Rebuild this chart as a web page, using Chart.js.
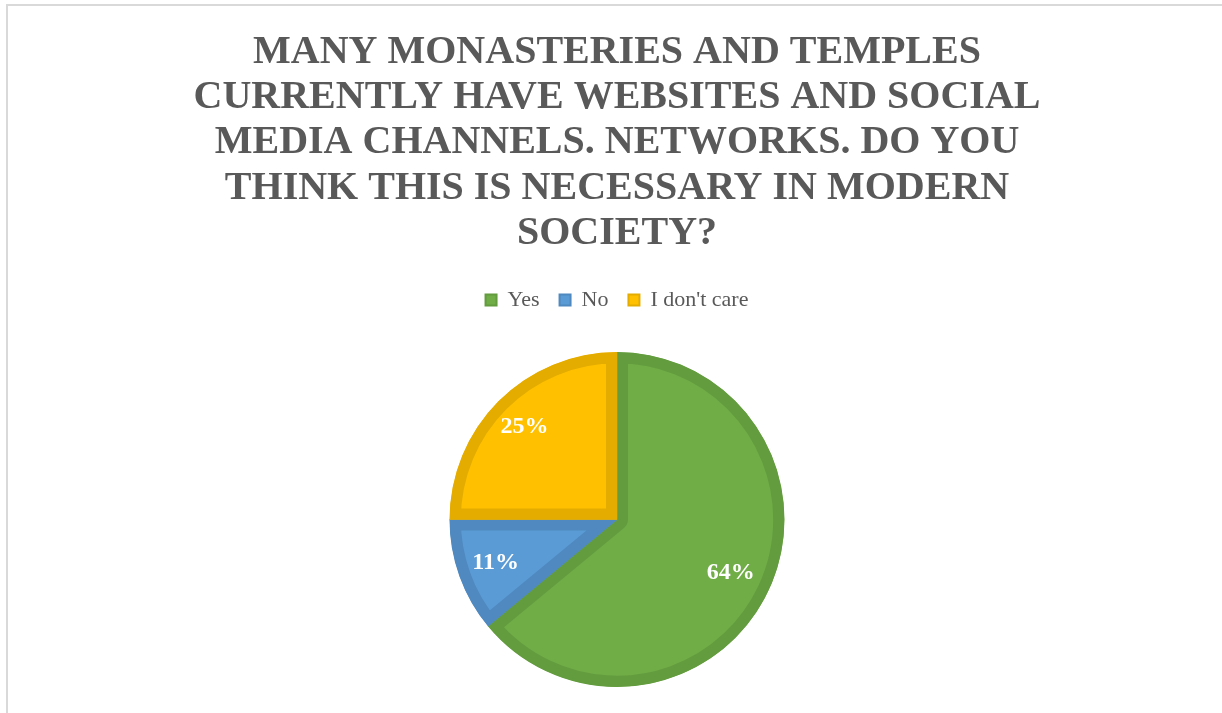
<!DOCTYPE html>
<html>
<head>
<meta charset="utf-8">
<script src="https://cdn.jsdelivr.net/npm/chart.js@4"></script>
<style>
  html, body { margin: 0; padding: 0; background: #fff; overflow: hidden; }
  #frame {
    position: absolute; left: 6px; top: 4px; width: 1240px; height: 730px;
    border-left: 2px solid #d9d9d9; border-top: 2px solid #d9d9d9;
  }
  #wrap { position: absolute; left: 0; top: 0; width: 1222px; height: 713px; }
</style>
</head>
<body>
<div id="frame"></div>
<div id="wrap"><canvas id="pieChart"></canvas></div>
<script>
// Survey answers
const titleLines = [
  'MANY MONASTERIES AND TEMPLES',
  'CURRENTLY HAVE WEBSITES AND SOCIAL',
  'MEDIA CHANNELS. NETWORKS. DO YOU',
  'THINK THIS IS NECESSARY IN MODERN',
  'SOCIETY?'
];
const answers = ['Yes', 'No', "I don't care"];
const shares = [64, 11, 25];

const fillColors = ['#70AD47', '#5B9BD5', '#FFC000'];
const edgeColors = ['#639C3E', '#4F89BF', '#E5AC00'];

const serif = '"Liberation Serif", "Times New Roman", serif';

// adds room between the legend and the pie
const legendGap = {
  id: 'legendGap',
  beforeInit(chart) {
    const fit = chart.legend.fit;
    chart.legend.fit = function () {
      fit.call(this);
      this.height += 31;
    };
  }
};

// percentage labels inside each slice
const sliceLabels = {
  id: 'sliceLabels',
  afterDatasetsDraw(chart, args, opts) {
    const ctx = chart.ctx;
    const meta = chart.getDatasetMeta(0);
    ctx.save();
    ctx.font = 'bold 24px ' + serif;
    ctx.fillStyle = '#ffffff';
    ctx.textAlign = 'center';
    ctx.textBaseline = 'middle';
    meta.data.forEach((arc, i) => {
      const mid = (arc.startAngle + arc.endAngle) / 2;
      const r = arc.outerRadius * opts.radius[i];
      ctx.fillText(shares[i] + '%', arc.x + Math.cos(mid) * r, arc.y + Math.sin(mid) * r);
    });
    ctx.restore();
  }
};

const ctx = document.getElementById('pieChart').getContext('2d');
const pieChart = new Chart(ctx, {
  type: 'pie',
  data: {
    labels: answers,
    datasets: [{
      data: shares,
      backgroundColor: fillColors,
      borderColor: edgeColors,
      borderWidth: 11,
      borderAlign: 'inner',
      hoverOffset: 0
    }]
  },
  options: {
    responsive: true,
    maintainAspectRatio: false,
    animation: false,
    layout: { padding: { left: 12, bottom: 26 } },
    plugins: {
      title: {
        display: true,
        text: titleLines,
        color: '#595959',
        font: { family: serif, size: 40, weight: 'bold', lineHeight: 1.13 },
        padding: { top: 30, bottom: 13 }
      },
      legend: {
        position: 'top',
        labels: {
          color: '#595959',
          boxWidth: 11,
          boxHeight: 11,
          padding: 20,
          font: { family: serif, size: 22 },
          generateLabels(chart) {
            return answers.map((name, i) => ({
              text: name,
              fillStyle: fillColors[i],
              strokeStyle: edgeColors[i],
              lineWidth: 2,
              fontColor: '#595959',
              index: i
            }));
          }
        }
      },
      tooltip: { enabled: false },
      sliceLabels: { radius: [0.75, 0.77, 0.78] }
    }
  },
  plugins: [legendGap, sliceLabels]
});
</script>
</body>
</html>
